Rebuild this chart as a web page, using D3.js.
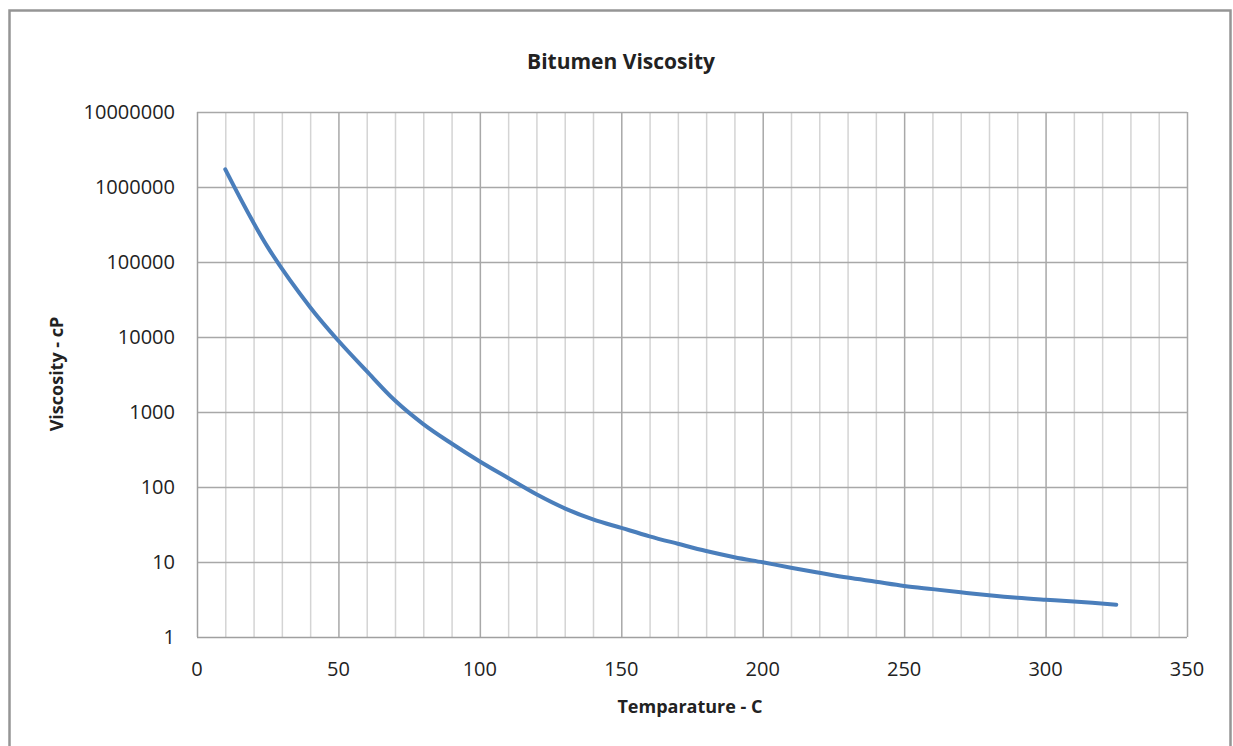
<!DOCTYPE html>
<html>
<head>
<meta charset="utf-8">
<script src="https://cdn.jsdelivr.net/npm/d3@7"></script>
<style>
  body { margin: 0; background: #fff; }
  svg text { font-family: "Open Sans", "Liberation Sans", sans-serif; fill: #222; }
</style>
</head>
<body>
<svg id="chart" width="1233" height="746"></svg>
<script>
// temperature (C) and viscosity (cP)
let temps = [10, 25, 40, 50, 60, 70, 80, 90, 100, 110, 120, 130, 140, 150, 160, 170, 180, 190, 200,
             210, 220, 230, 240, 250, 260, 270, 280, 290, 300, 310, 325]
let viscosity = [1720000, 158000, 25000, 8900, 3500, 1420, 690, 380, 219, 132, 80, 52, 37, 28.5, 22, 17.5, 14, 11.6, 9.9,
                 8.4, 7.2, 6.2, 5.46, 4.8, 4.35, 3.95, 3.6, 3.33, 3.14, 2.98, 2.7]
let xTicks = [0, 50, 100, 150, 200, 250, 300, 350]
let yTicks = [1, 10, 100, 1000, 10000, 100000, 1000000, 10000000]

let data = temps.map((t, i) => ({ t: t, v: viscosity[i] }))

let width = 1233
let height = 746
let margin = { top: 112, right: 46, bottom: 109, left: 197 }

let svg = d3.select("#chart")

// outer chart frame
svg.append("rect")
    .attr("x", 9.5)
    .attr("y", 10.5)
    .attr("width", 1221)
    .attr("height", 780)
    .style("fill", "none")
    .style("stroke", "#959595")
    .style("stroke-width", 2.5)

let x = d3.scaleLinear()
    .domain([0, 350])
    .range([margin.left, width - margin.right])

let y = d3.scaleLog()
    .domain([1, 10000000])
    .range([height - margin.bottom, margin.top])

// vertical grid, every 10 degrees, darker every 50
svg.append("g")
    .selectAll("line")
    .data(d3.range(10, 351, 10))
    .join("line")
    .attr("x1", d => x(d) + 0.5)
    .attr("x2", d => x(d) + 0.5)
    .attr("y1", y(10000000))
    .attr("y2", y(1))
    .style("stroke", d => d % 50 == 0 ? "#a8a8a8" : "#d4d4d4")
    .style("stroke-width", 1.5)

// horizontal grid at each decade
svg.append("g")
    .selectAll("line")
    .data(yTicks.slice(1))
    .join("line")
    .attr("x1", x(0))
    .attr("x2", x(350))
    .attr("y1", d => y(d) + 0.5)
    .attr("y2", d => y(d) + 0.5)
    .style("stroke", "#a8a8a8")
    .style("stroke-width", 1.5)

// axes lines
svg.append("line")
    .attr("x1", x(0) + 0.5).attr("x2", x(0) + 0.5)
    .attr("y1", y(10000000)).attr("y2", y(1))
    .style("stroke", "#a0a0a0").style("stroke-width", 1.5)

svg.append("line")
    .attr("x1", x(0)).attr("x2", x(350))
    .attr("y1", y(1) + 0.5).attr("y2", y(1) + 0.5)
    .style("stroke", "#a0a0a0").style("stroke-width", 1.5)

// tick labels
svg.append("g")
    .selectAll("text")
    .data(xTicks)
    .join("text")
    .attr("x", d => x(d))
    .attr("y", y(1) + 39)
    .attr("text-anchor", "middle")
    .style("font-size", "20px")
    .text(d => d)

svg.append("g")
    .selectAll("text")
    .data(yTicks)
    .join("text")
    .attr("x", x(0) - 22)
    .attr("y", d => y(d) + 7)
    .attr("text-anchor", "end")
    .style("font-size", "20px")
    .text(d => d3.format("d")(d))

// the curve
let line = d3.line()
    .x(d => x(d.t))
    .y(d => y(d.v))
    .curve(d3.curveCatmullRom.alpha(0.5))

svg.append("path")
    .attr("d", line(data))
    .style("fill", "none")
    .style("stroke", "#4a7ebb")
    .style("stroke-width", 4)
    .style("stroke-linecap", "round")

// titles
svg.append("text")
    .attr("x", 621)
    .attr("y", 69)
    .attr("text-anchor", "middle")
    .style("font-size", "21px")
    .style("font-weight", "bold")
    .text("Bitumen Viscosity")

svg.append("text")
    .attr("x", 690)
    .attr("y", 713)
    .attr("text-anchor", "middle")
    .style("font-size", "18px")
    .style("font-weight", "bold")
    .text("Temparature - C")

svg.append("text")
    .attr("transform", "translate(63,374) rotate(-90)")
    .attr("text-anchor", "middle")
    .style("font-size", "18px")
    .style("font-weight", "bold")
    .text("Viscosity - cP")
</script>
</body>
</html>
